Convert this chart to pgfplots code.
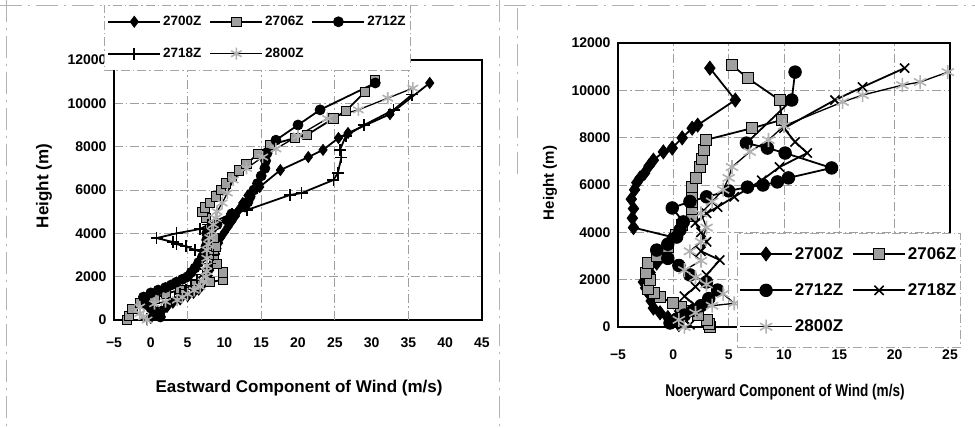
\documentclass[border=0pt]{standalone}
\usepackage{fontspec}
\setmainfont{Liberation Sans}
\newfontfamily\narrowfont[FakeStretch=0.8]{Liberation Sans}
\usepackage{pgfplots}
\pgfplotsset{compat=1.18}

% ---------------- wind profiles: eastward component (m/s) vs height (m)
\pgfplotstableread{
u h
0.0 100
0.8 250
1.5 400
2.2 600
3.0 800
4.0 950
5.0 1100
5.8 1250
6.5 1400
7.0 1600
7.5 1800
7.8 2050
8.0 2300
8.3 2550
8.5 2800
8.8 3050
9.0 3300
9.2 3550
9.5 3800
10.0 4050
10.5 4300
11.0 4550
11.5 4800
12.0 5100
12.5 5400
13.2 5750
14.8 6140
17.6 6920
21.4 7520
23.4 7850
25.5 8400
26.8 8630
32.5 9500
37.9 10940
}\eastA
\pgfplotstableread{
u h
-3.2 0
-3.0 200
-2.5 500
-1.5 800
0.5 1000
2.0 1200
4.0 1400
6.0 1600
8.0 1750
9.8 1850
9.8 2200
9.0 2600
8.5 3000
8.8 3400
8.5 3800
8.0 4200
7.5 4700
7.0 5000
7.4 5200
8.0 5400
8.8 5700
9.5 6000
10.2 6300
11.0 6600
12.0 6900
13.0 7200
14.5 7650
16.2 8080
19.6 8400
21.2 8540
24.8 9300
26.5 9650
29.1 10520
30.5 11080
}\eastB
\pgfplotstableread{
u h
1.3 140
0.9 270
0.5 400
0.0 550
-0.5 700
-0.8 880
-1.0 1060
0.0 1250
1.0 1380
2.0 1500
2.8 1620
3.5 1750
4.3 1880
5.0 2000
5.5 2200
6.0 2400
6.5 2650
7.0 2900
7.3 3150
7.5 3400
7.6 3700
7.6 4000
8.3 4200
9.0 4400
10.4 4600
11.0 4900
12.8 5220
13.2 5450
13.5 5700
14.0 6000
14.5 6300
15.0 6650
15.5 7000
15.6 7350
15.8 7700
17.0 8300
20.0 9000
23.0 9700
30.5 10940
}\eastC
\pgfplotstableread{
u h
-0.5 50
0.3 230
1.0 400
1.8 600
2.5 800
3.2 1000
4.0 1200
4.8 1400
5.5 1600
6.3 1850
7.0 2100
7.5 2350
8.0 2600
8.5 3000
6.0 3230
4.8 3400
3.5 3500
3.0 3600
0.8 3780
3.5 4000
6.7 4200
7.8 4400
9.0 4600
11.0 4900
13.1 5080
18.9 5770
20.5 5860
24.8 6460
25.4 6780
25.9 7500
25.7 7850
26.5 8500
29.0 9000
33.0 9700
35.5 10400
}\eastD
\pgfplotstableread{
u h
-0.5 0
-1.0 150
-1.5 300
-1.5 600
0.5 750
2.0 850
3.6 920
4.3 1050
5.0 1200
5.9 1370
6.7 1540
7.1 1770
7.5 2000
7.6 2250
7.6 2500
7.6 2850
7.6 3230
7.8 3500
8.0 3800
8.3 4100
8.5 4400
8.8 4700
9.0 5000
9.7 5400
10.4 5860
11.2 6460
13.0 7000
15.2 7520
17.0 7900
20.0 8500
24.0 9300
28.2 9700
32.2 10240
35.6 10700
}\eastE

% ---------------- wind profiles: northward component (m/s) vs height (m)
\pgfplotstableread{
v h
0.5 100
0.0 250
-0.5 400
-1.2 600
-1.8 800
-2.0 1100
-2.2 1400
-2.5 1650
-2.7 1900
-2.1 2300
-1.5 2700
-1.0 3000
-0.5 3300
-0.1 3800
-3.6 4200
-3.7 4600
-3.6 5000
-3.8 5400
-3.5 5800
-3.3 6100
-3.0 6300
-2.6 6500
-2.2 6800
-1.8 7050
-0.9 7400
-0.1 7560
0.8 7990
1.7 8400
2.2 8530
5.6 9590
3.3 10940
}\northA
\pgfplotstableread{
v h
3.3 0
3.2 150
3.0 300
2.2 500
1.5 700
0.7 850
0.0 1000
-1.2 1270
-1.8 1450
-2.3 1600
-2.1 1990
-2.5 2300
-2.3 2700
-1.5 3000
-0.5 3400
0.2 3890
0.8 4300
1.7 4700
1.7 5000
1.7 5300
1.7 5600
1.7 5900
2.0 6300
2.4 6760
2.6 7100
2.8 7480
2.9 7900
7.1 8400
9.8 8750
9.6 9590
6.7 10520
5.3 11070
}\northB
\pgfplotstableread{
v h
-0.3 170
0.3 330
1.0 500
1.8 700
2.5 900
3.2 1200
4.0 1560
3.0 1900
1.5 2200
0.5 2600
-0.5 2900
-1.5 3250
-0.5 3500
0.3 3800
0.6 4100
0.9 4440
-0.1 5030
1.5 5300
3.0 5500
5.0 5750
6.7 5910
8.1 6000
9.4 6130
10.4 6300
14.3 6720
10.1 7350
8.5 7560
6.6 7770
10.7 9590
11.0 10770
}\northC
\pgfplotstableread{
v h
1.5 100
0.5 500
2.0 900
1.0 1300
2.0 1700
3.0 2200
4.2 2830
2.5 3200
3.0 3600
2.5 4000
2.0 4400
3.0 4800
4.0 5070
5.5 5500
8.0 6200
9.6 6760
12.1 7350
11.0 7820
10.0 8400
14.6 9590
17.1 10140
20.9 10940
}\northD
\pgfplotstableread{
v h
1.0 0
0.5 300
2.0 600
3.5 900
5.5 1000
4.5 1400
3.0 1800
2.0 2100
1.0 2400
2.5 2800
1.5 3200
2.5 3600
3.0 4200
2.5 4800
3.5 5300
4.5 5800
5.0 6300
5.3 6760
6.9 7400
8.6 7900
10.0 8500
15.3 9510
17.1 9800
20.7 10220
22.3 10350
24.8 10770
}\northE

\pgfplotsset{
  profile/.style={
    scale only axis, clip=false,
    ymin=0, ymax=12000, ytick={0,2000,...,12000},
    scaled y ticks=false,
    /pgf/number format/assume math mode=true,
    /pgf/number format/1000 sep={},
    axis line style={line width=1.3pt},
    major tick length=0pt,
    ymajorgrids=true,
    grid style={gray!75, line width=0.6pt, dash pattern=on 9pt off 3pt on 1.5pt off 3pt},
    ticklabel style={font=\fontsize{14}{14}\selectfont\bfseries},
    legend cell align=left,
  },
  lineimg/.style={legend image code/.code={
      \draw[mark repeat=2,mark phase=2,##1] plot coordinates {(0pt,0pt) (#1,0pt) (2*#1,0pt)};}},
  p2700/.style={black, line width=1.8pt, mark=diamond*, mark size=#1,
    mark options={solid, fill=black, draw=black, line width=0.8pt}},
  p2706/.style={black, line width=1.8pt, mark=square*, mark size=#1,
    mark options={solid, fill=gray!75, draw=black, line width=0.8pt}},
  p2712/.style={black, line width=1.8pt, mark=*, mark size=#1,
    mark options={solid, fill=black, draw=black, line width=0.8pt}},
  p2718/.style 2 args={black, line width=1.8pt, mark=#1, mark size=#2,
    mark options={solid, draw=black, line width=1.6pt}},
  p2800/.style={black, line width=1.3pt, mark=asterisk, mark size=#1,
    mark options={solid, draw=gray!60, line width=1.6pt}},
}

\begin{document}
\begin{tikzpicture}
\useasboundingbox (0pt,0pt) rectangle (975pt,428pt);

% frame of the printed page
\begin{scope}[gray!60, line width=0.7pt, dash pattern=on 22pt off 6pt on 2pt off 6pt]
  \draw (6pt,428pt) -- (6pt,0pt);
  \draw (499pt,428pt) -- (499pt,0pt);
  \draw (517pt,420pt) -- (517pt,250pt);
  \draw (0pt,423pt) -- (975pt,423pt);
\end{scope}

% ---------------- eastward component
\begin{axis}[profile,
  at={(114pt,108pt)}, anchor=south west,
  width=368pt, height=260pt,
  xmin=-5, xmax=45,
  xtick={-5,0,...,45},
  xticklabels={−5,0,5,10,15,20,25,30,35,40,45},
  extra x ticks={5,15,25,35}, extra x tick labels={},
  extra x tick style={xmajorgrids=true},
  xticklabel style={yshift=-14pt},
  yticklabel style={xshift=-4pt},
  xlabel={Eastward Component of Wind (m/s)},
  xlabel style={at={(axis description cs:0.503,-0.262)}, anchor=center,
    font=\fontsize{17}{17}\selectfont\bfseries},
  ylabel={Height (m)},
  ylabel style={at={(axis description cs:-0.19,0.515)}, anchor=center,
    font=\fontsize{17}{17}\selectfont\bfseries},
  legend columns=3,
  legend style={at={(axis description cs:-0.027,1.2115)}, anchor=north west,
    draw=gray!70, line width=0.6pt, dash pattern=on 9pt off 3pt on 1.5pt off 3pt,
    fill=white, font=\fontsize{13.5}{13.5}\selectfont\bfseries,
    inner xsep=3pt, inner ysep=9pt,
    row sep=17pt,
    /tikz/every odd column/.append style={column sep=0pt},
    /tikz/every even column/.append style={column sep=6pt}},
  lineimg=26pt,
]
\addplot[p2700=5.5pt] table[x=u,y=h] {\eastA};
\addlegendentry{2700Z}
\addplot[p2706=4.6pt] table[x=u,y=h] {\eastB};
\addlegendentry{2706Z}
\addplot[p2712=5pt] table[x=u,y=h] {\eastC};
\addlegendentry{2712Z}
\addplot[p2718={+}{6pt}] table[x=u,y=h] {\eastD};
\addlegendentry{2718Z}
\addplot[p2800=6pt] table[x=u,y=h] {\eastE};
\addlegendentry{2800Z}
\end{axis}

% ---------------- northward component
\begin{axis}[profile,
  at={(618pt,101pt)}, anchor=south west,
  width=332pt, height=284pt,
  xmin=-5, xmax=25,
  xtick={-5,0,...,25},
  xticklabels={−5,0,5,10,15,20,25},
  xmajorgrids=true,
  xticklabel style={yshift=-19pt},
  yticklabel style={xshift=-4pt},
  xlabel={Noeryward Component of Wind (m/s)},
  xlabel style={at={(axis description cs:0.503,-0.229)}, anchor=center,
    font=\fontsize{17}{17}\selectfont\narrowfont\bfseries},
  ylabel={Height (m)},
  ylabel style={at={(axis description cs:-0.205,0.507)}, anchor=center,
    font=\fontsize{15}{15}\selectfont\bfseries},
  legend columns=2,
  legend style={at={(axis description cs:0.358,0.331)}, anchor=north west,
    draw=gray!70, line width=0.6pt, dash pattern=on 9pt off 3pt on 1.5pt off 3pt,
    fill=white, font=\fontsize{17}{17}\selectfont\bfseries,
    inner xsep=2pt, inner ysep=12pt,
    row sep=19pt,
    /tikz/every odd column/.append style={column sep=0pt},
    /tikz/every even column/.append style={column sep=7pt}},
  lineimg=26pt,
]
\addplot[p2700=7pt] table[x=v,y=h] {\northA};
\addlegendentry{2700Z}
\addplot[p2706=5.5pt] table[x=v,y=h] {\northB};
\addlegendentry{2706Z}
\addplot[p2712=6.3pt] table[x=v,y=h] {\northC};
\addlegendentry{2712Z}
\addplot[p2718={x}{6.5pt}] table[x=v,y=h] {\northD};
\addlegendentry{2718Z}
\addplot[p2800=7pt] table[x=v,y=h] {\northE};
\addlegendentry{2800Z}
\end{axis}
\end{tikzpicture}
\end{document}
